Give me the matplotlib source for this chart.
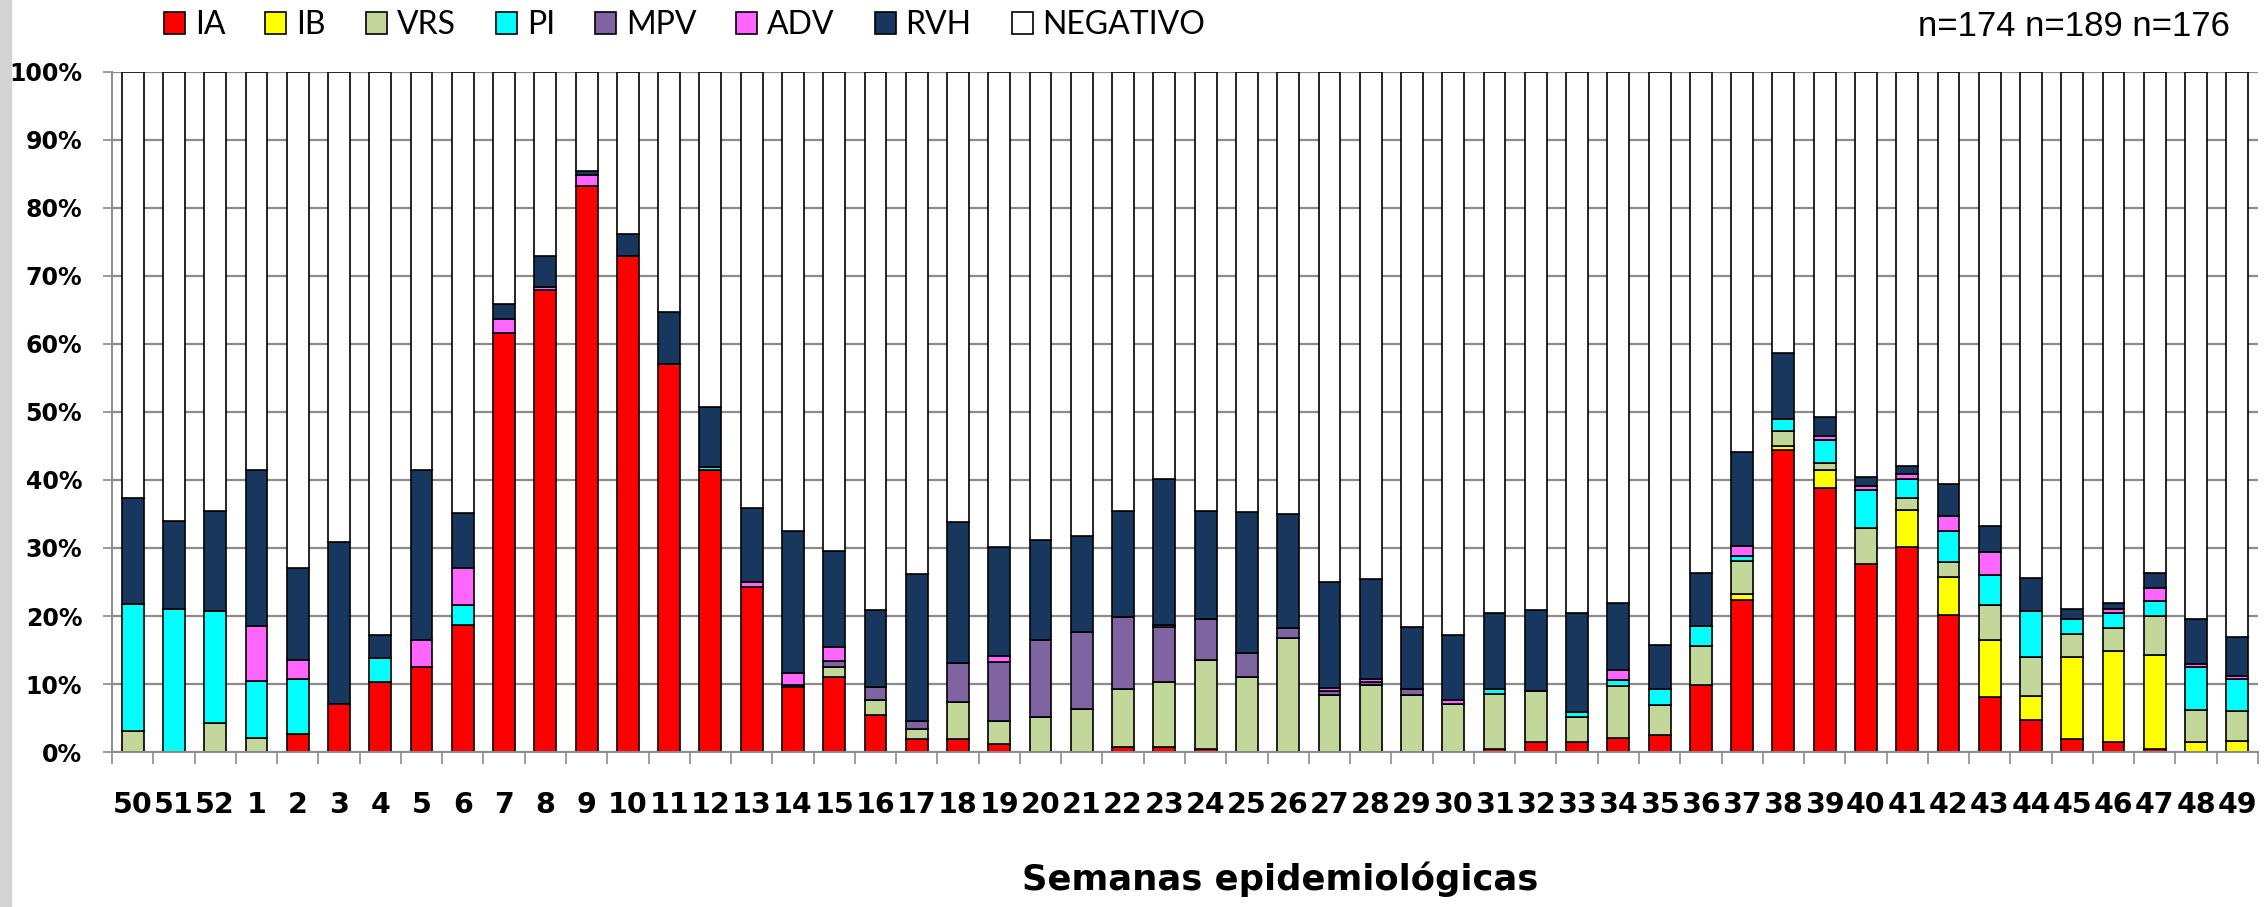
import matplotlib.pyplot as plt
from matplotlib.patches import Rectangle

weeks = [50, 51, 52] + list(range(1, 50))

# percentages per week (50, 51, 52, 1 ... 49)
ia = [0, 0, 0, 0, 2.7, 7.1, 10.3, 12.5, 18.7, 61.6,
      68.0, 83.3, 73.0, 57.1, 41.5, 24.3, 9.6, 11.0, 5.5, 1.9,
      1.9, 1.2, 0, 0, 0.7, 0.7, 0.4, 0, 0, 0,
      0, 0, 0, 0.5, 1.4, 1.4, 2.1, 2.5, 9.8, 22.4,
      44.4, 38.8, 27.6, 30.2, 20.1, 8.1, 4.7, 1.9, 1.5, 0.5,
      0, 0]
ib = [0, 0, 0, 0, 0, 0, 0, 0, 0, 0,
      0, 0, 0, 0, 0, 0, 0, 0, 0, 0,
      0, 0, 0, 0, 0, 0, 0, 0, 0, 0,
      0, 0, 0, 0, 0, 0, 0, 0, 0, 0.8,
      0.6, 2.6, 0, 5.4, 5.6, 8.3, 3.5, 12.1, 13.3, 13.7,
      1.5, 1.6]
vrs = [3.1, 0, 4.2, 2.0, 0, 0, 0, 0, 0, 0,
       0, 0, 0, 0, 0, 0, 0, 1.5, 2.1, 1.5,
       5.5, 3.3, 5.1, 6.3, 8.6, 9.6, 13.2, 11.1, 16.7, 8.4,
       9.8, 8.4, 7.1, 8.0, 7.5, 3.8, 7.6, 4.4, 5.8, 4.9,
       2.2, 1.1, 5.4, 1.7, 2.2, 5.2, 5.7, 3.3, 3.5, 5.8,
       4.7, 4.5]
pi = [18.7, 21.1, 16.6, 8.4, 8.1, 0, 3.5, 0, 2.9, 0,
      0, 0, 0, 0, 0.4, 0, 0, 0, 0, 0,
      0, 0, 0, 0, 0, 0, 0, 0, 0, 0,
      0, 0, 0, 0.7, 0, 0.7, 0.9, 2.4, 2.9, 0.7,
      1.7, 3.4, 5.5, 2.8, 4.6, 4.4, 6.8, 2.2, 2.1, 2.2,
      6.3, 4.6]
mpv = [0, 0, 0, 0, 0, 0, 0, 0, 0, 0,
       0, 0, 0, 0, 0, 0, 0.3, 0.9, 2.0, 1.2,
       5.7, 8.7, 11.3, 11.4, 10.5, 8.1, 5.9, 3.5, 1.5, 0.5,
       0.5, 0.8, 0, 0, 0, 0, 0, 0, 0, 0,
       0, 0, 0, 0, 0, 0, 0, 0, 0, 0,
       0, 0]
adv = [0, 0, 0, 8.2, 2.7, 0, 0, 4.0, 5.4, 2.1,
       0.4, 1.5, 0, 0, 0, 0.7, 1.7, 2.0, 0, 0,
       0, 0.9, 0, 0, 0, 0.3, 0, 0, 0, 0.5,
       0.5, 0, 0.6, 0, 0, 0, 1.4, 0, 0, 1.5,
       0, 0.6, 0.6, 0.8, 2.2, 3.4, 0, 0, 0.6, 1.9,
       0.5, 0.5]
rvh = [15.6, 12.9, 14.6, 22.9, 13.6, 23.8, 3.4, 25.0, 8.1, 2.2,
       4.5, 0.6, 3.2, 7.6, 8.8, 10.9, 20.9, 14.1, 11.3, 21.6,
       20.7, 16.1, 14.8, 14.1, 15.7, 21.5, 16.0, 20.7, 16.8, 15.6,
       14.6, 9.2, 9.5, 11.2, 12.0, 14.6, 9.9, 6.5, 7.8, 13.8,
       9.8, 2.7, 1.4, 1.1, 4.7, 3.9, 4.9, 1.6, 0.9, 2.2,
       6.5, 5.7]
negativo = [62.6, 66.0, 64.6, 58.5, 72.9, 69.1, 82.8, 58.5, 64.9, 34.1,
            27.1, 14.6, 23.8, 35.3, 49.3, 64.1, 67.5, 70.5, 79.1, 73.8,
            66.2, 69.8, 68.8, 68.2, 64.5, 59.8, 64.5, 64.7, 65.0, 75.0,
            74.6, 81.6, 82.8, 79.6, 79.1, 79.5, 78.1, 84.2, 73.7, 55.9,
            41.3, 50.8, 59.5, 58.0, 60.6, 66.7, 74.4, 78.9, 78.1, 73.7,
            80.5, 83.1]

series = [ia, ib, vrs, pi, mpv, adv, rvh, negativo]
names = ['IA', 'IB', 'VRS', 'PI', 'MPV', 'ADV', 'RVH', 'NEGATIVO']
colors = ['#FF0000', '#FFFF00', '#C4D79B', '#00FFFF', '#8064A2',
          '#FF66FF', '#17375E', '#FFFFFF']

W, H = 2266, 907
fig = plt.figure(figsize=(W / 100, H / 100), dpi=100)
ax = fig.add_axes([112 / W, 1 - 752 / H, (2258 - 112) / W, (752 - 72) / H])

# textured strip at the left edge of the original
fig.patches.append(Rectangle((0, 0), 11 / W, 1, transform=fig.transFigure,
                             color='#d4d4d4', zorder=0))

x = list(range(len(weeks)))
bottom = [0] * len(weeks)
for vals, name, col in zip(series, names, colors):
    ax.bar(x, vals, 0.53, bottom=bottom, color=col, edgecolor='black',
           linewidth=1.2, label=name)
    bottom = [b + v for b, v in zip(bottom, vals)]

ax.set_xlim(-0.5, len(weeks) - 0.5)
ax.set_ylim(0, 100)
ax.set_axisbelow(True)
ax.yaxis.grid(True, color='#8c8c8c', linewidth=1.6)

ax.set_yticks(range(0, 101, 10))
ax.set_yticklabels(['%d%%' % v for v in range(0, 101, 10)],
                   fontfamily='DejaVu Sans', fontweight='bold', fontsize=17)
ax.tick_params(axis='y', length=6.5, width=1.2, color='#8c8c8c', pad=15)

ax.set_xticks(x)
ax.set_xticklabels([str(w) for w in weeks], fontfamily='DejaVu Sans',
                   fontweight='bold', fontsize=20.5)
ax.set_xticks([i - 0.5 for i in range(len(weeks) + 1)], minor=True)
ax.tick_params(axis='x', which='major', length=0, pad=28)
ax.tick_params(axis='x', which='minor', length=8.5, width=1.2, color='#8c8c8c')

for s in ['top', 'right']:
    ax.spines[s].set_visible(False)
for s in ['left', 'bottom']:
    ax.spines[s].set_color('#8c8c8c')
    ax.spines[s].set_linewidth(1.4)

fig.text(1280 / W, 1 - 890 / H, 'Semanas epidemiológicas', ha='center',
         va='baseline', fontfamily='DejaVu Sans', fontweight='bold',
         fontsize=25.5)

fig.text(2230 / W, 1 - 26 / H, 'n=174 n=189 n=176', ha='right', va='center',
         fontfamily='Liberation Sans', fontsize=25)

fig.legend(loc='center left', bbox_to_anchor=(164 / W, 1 - 25 / H), ncol=8,
           frameon=False, prop={'family': 'Lato', 'size': 23},
           handlelength=0.66, handleheight=0.66, handletextpad=0.31,
           columnspacing=1.25, borderpad=0, borderaxespad=0)

fig.savefig('out.png', dpi=100)
